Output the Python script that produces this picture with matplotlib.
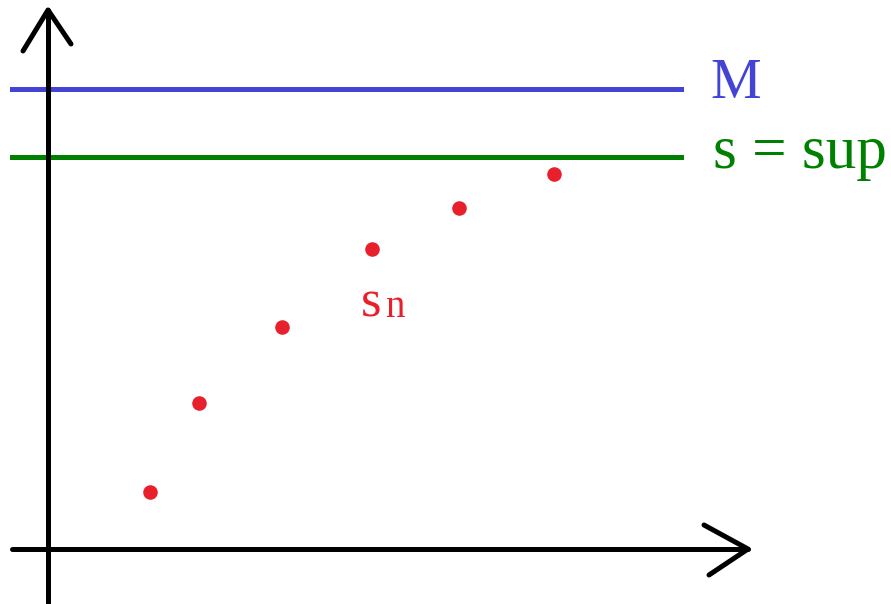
import matplotlib
matplotlib.use("Agg")
import matplotlib.pyplot as plt

# Increasing sequence s_n bounded above by M, converging to s = sup
n_x = [1.03, 1.52, 2.35, 3.25, 4.12, 5.07]
s_n = [0.57, 1.46, 2.22, 3.00, 3.41, 3.75]
upper_bound_M = 4.60
supremum = 3.92

labels = {"M": "M", "sup": "s = sup", "s": "s", "n": "n"}

BLUE = "#4343d6"
GREEN = "#008000"
RED = "#e8202c"

fig = plt.figure(figsize=(8.91, 6.04), dpi=100)
ax = fig.add_axes([0, 0, 1, 1])
ax.set_xlim(-0.47, 8.44)
ax.set_ylim(-0.55, 5.49)
ax.axis("off")

# horizontal bounds
ax.plot([-0.35, 6.34], [upper_bound_M, upper_bound_M], color=BLUE, lw=3.6, zorder=1)
ax.plot([-0.35, 6.34], [supremum, supremum], color=GREEN, lw=3.6, zorder=1)

axis_kw = dict(color="black", lw=3.6, solid_capstyle="round", solid_joinstyle="round", zorder=2)
# vertical axis with open arrowhead
ax.plot([0.01, 0.01], [-0.6, 5.39], **axis_kw)
ax.plot([-0.24, 0.01, 0.24], [4.98, 5.39, 5.05], **axis_kw)
# horizontal axis with open arrowhead
ax.plot([-0.35, 7.01], [0.0, 0.0], **axis_kw)
ax.plot([6.57, 7.01, 6.62], [0.24, 0.0, -0.26], **axis_kw)

# sequence points
ax.scatter(n_x, s_n, s=110, color=RED, zorder=3, linewidths=0)

serif = ["Liberation Serif", "DejaVu Serif"]
ax.text(6.63, 4.51, labels["M"], color=BLUE, fontsize=41, family=serif, va="baseline", ha="left")
ax.text(6.66, 3.81, labels["sup"], color=GREEN, fontsize=44, family=serif, va="baseline", ha="left")
ax.text(3.14, 2.32, labels["s"], color=RED, fontsize=38, family=serif, va="baseline", ha="left")
ax.text(3.38, 2.32, labels["n"], color=RED, fontsize=28, family=serif, va="baseline", ha="left")

fig.savefig("out.png", dpi=100)
